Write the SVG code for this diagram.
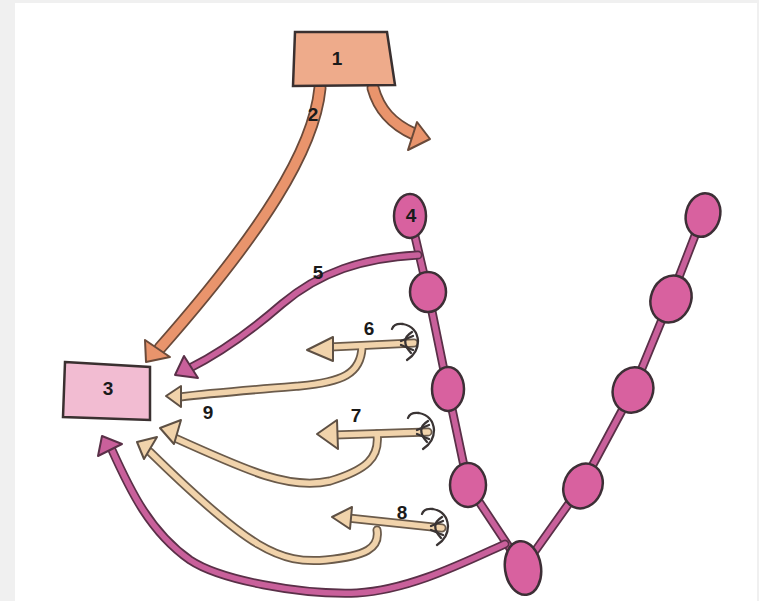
<svg xmlns="http://www.w3.org/2000/svg" width="759" height="601" viewBox="0 0 759 601">
<style>
.lbl{font-family:"Liberation Sans",Arial,sans-serif;font-weight:bold;font-size:19px;fill:#1a1a1a;text-anchor:middle}
.tanO{fill:none;stroke:#6b5b4b;stroke-width:9;stroke-linecap:round;stroke-linejoin:round}
.tanI{fill:none;stroke:#f1d3ab;stroke-width:5.5;stroke-linecap:round;stroke-linejoin:round}
.magO{fill:none;stroke:#5a3048;stroke-width:9;stroke-linecap:round;stroke-linejoin:round}
.magI{fill:none;stroke:#c9609b;stroke-width:5.5;stroke-linecap:round;stroke-linejoin:round}
.salO{fill:none;stroke:#6a4a3a;stroke-width:13;stroke-linecap:round}
.salI{fill:none;stroke:#e9946c;stroke-width:9.5;stroke-linecap:round}
.tanH{fill:#f1d3ab;stroke:#5e5044;stroke-width:2;stroke-linejoin:round}
.magH{fill:#c9609b;stroke:#5a3048;stroke-width:2;stroke-linejoin:round}
.salH{fill:#e9946c;stroke:#6a4a3a;stroke-width:2;stroke-linejoin:round}
.cell{fill:#d8619f;stroke:#3d2f36;stroke-width:2.5}
.hook{fill:none;stroke:#3a3434;stroke-width:2.3;stroke-linecap:round}
</style>
<defs>
<g id="hookShape">
<path class="hook" d="M -22 -14 Q -20 -20 -11 -19 Q 3 -16 4 -2 Q 4 10 -7 17"/>
<path class="hook" d="M -2 -11 Q -15 -3 -3 10"/>
<path class="hook" d="M -13 -2 L -1 -7 M -13 2 L -1 7"/>
</g>
</defs>
<rect x="0" y="0" width="759" height="601" fill="#f0f0f0"/>
<rect x="15" y="3" width="742" height="598" fill="#ffffff"/>

<g id="chains">
<polyline class="magO" points="410,215 428,292 448,390 468,485 523,568 582,485 633,390 670,300 703,215"/>
<polyline class="magI" points="410,215 428,292 448,390 468,485 523,568 582,485 633,390 670,300 703,215"/>
</g>

<g id="connectors">
<path class="salO" d="M 320 88 C 314 150 262 232 160 348"/>
<path class="salO" d="M 373 88 C 379 110 392 124 414 134"/>
<path class="magO" d="M 418 255 C 362 258 320 272 282 304 C 252 330 222 352 190 368"/>
<path class="magO" d="M 505 544 C 465 562 410 590 357 593 C 300 595 220 580 190 560 C 150 532 130 490 112 450"/>
<path class="tanO" d="M 414 343 L 330 347"/>
<path class="tanO" d="M 362 347 C 361 374 342 382 300 386 C 250 390 212 393 180 397"/>
<path class="tanO" d="M 428 432 L 334 435"/>
<path class="tanO" d="M 377 434 C 380 458 366 470 330 481 C 290 490 250 472 175 438"/>
<path class="tanO" d="M 442 528 L 348 518"/>
<path class="tanO" d="M 377 530 C 380 548 366 556 326 560 C 280 564 250 550 150 452"/>
<path class="salI" d="M 320 88 C 314 150 262 232 160 348"/>
<path class="salI" d="M 373 88 C 379 110 392 124 414 134"/>
<path class="magI" d="M 418 255 C 362 258 320 272 282 304 C 252 330 222 352 190 368"/>
<path class="magI" d="M 505 544 C 465 562 410 590 357 593 C 300 595 220 580 190 560 C 150 532 130 490 112 450"/>
<path class="tanI" d="M 414 343 L 330 347"/>
<path class="tanI" d="M 362 347 C 361 374 342 382 300 386 C 250 390 212 393 180 397"/>
<path class="tanI" d="M 428 432 L 334 435"/>
<path class="tanI" d="M 377 434 C 380 458 366 470 330 481 C 290 490 250 472 175 438"/>
<path class="tanI" d="M 442 528 L 348 518"/>
<path class="tanI" d="M 377 530 C 380 548 366 556 326 560 C 280 564 250 550 150 452"/>
<polygon class="salH" points="146,362 145,340 170,357"/>
<polygon class="salH" points="430,139 417,122 408,150"/>
<polygon class="magH" points="175,375 184,356 198,378"/>
<polygon class="magH" points="102,436 98,456 122,444"/>
<polygon class="tanH" points="307,350 333,337 333,361"/>
<polygon class="tanH" points="166,396 181,386 181,407"/>
<polygon class="tanH" points="317,434 337,420 338,449"/>
<polygon class="tanH" points="160,428 181,420 174,444"/>
<polygon class="tanH" points="332,517 352,507 350,529"/>
<polygon class="tanH" points="137,442 157,437 144,459"/>
<use href="#hookShape" transform="translate(414,343)"/>
<use href="#hookShape" transform="translate(430,432)"/>
<use href="#hookShape" transform="translate(444,528)"/>
</g>

<g id="node1">
<polygon points="295,32 387,32 395,85 293,86" fill="#eeab8b" stroke="#3a3030" stroke-width="2.5"/>
<text class="lbl" x="337" y="65">1</text>
</g>
<g id="node3">
<polygon points="65,362 150,367 150,420 63,417" fill="#f2bcd2" stroke="#3a3030" stroke-width="2.5"/>
<text class="lbl" x="108" y="395">3</text>
</g>

<g id="cell4"><ellipse class="cell" cx="410" cy="216" rx="16" ry="22"/><text class="lbl" x="411" y="222" font-size="16">4</text></g>
<g id="cellL2"><ellipse class="cell" cx="428" cy="292" rx="18" ry="20"/></g>
<g id="cellL3"><ellipse class="cell" cx="448" cy="389" rx="16" ry="22"/></g>
<g id="cellL4"><ellipse class="cell" cx="468" cy="485" rx="18" ry="22"/></g>
<g id="cellBottom"><ellipse class="cell" cx="523" cy="568" rx="18" ry="27" transform="rotate(-8 523 568)"/></g>
<g id="cellR4"><ellipse class="cell" cx="583" cy="486" rx="19" ry="23" transform="rotate(25 583 486)"/></g>
<g id="cellR3"><ellipse class="cell" cx="633" cy="390" rx="20" ry="23" transform="rotate(20 633 390)"/></g>
<g id="cellR2"><ellipse class="cell" cx="671" cy="299" rx="20" ry="24" transform="rotate(22 671 299)"/></g>
<g id="cellR1"><ellipse class="cell" cx="703" cy="215" rx="17" ry="22" transform="rotate(15 703 215)"/></g>

<g id="labels">
<text class="lbl" x="313" y="121">2</text>
<text class="lbl" x="318" y="279">5</text>
<text class="lbl" x="369" y="335">6</text>
<text class="lbl" x="208" y="419">9</text>
<text class="lbl" x="356" y="422">7</text>
<text class="lbl" x="402" y="519">8</text>
</g>
</svg>
